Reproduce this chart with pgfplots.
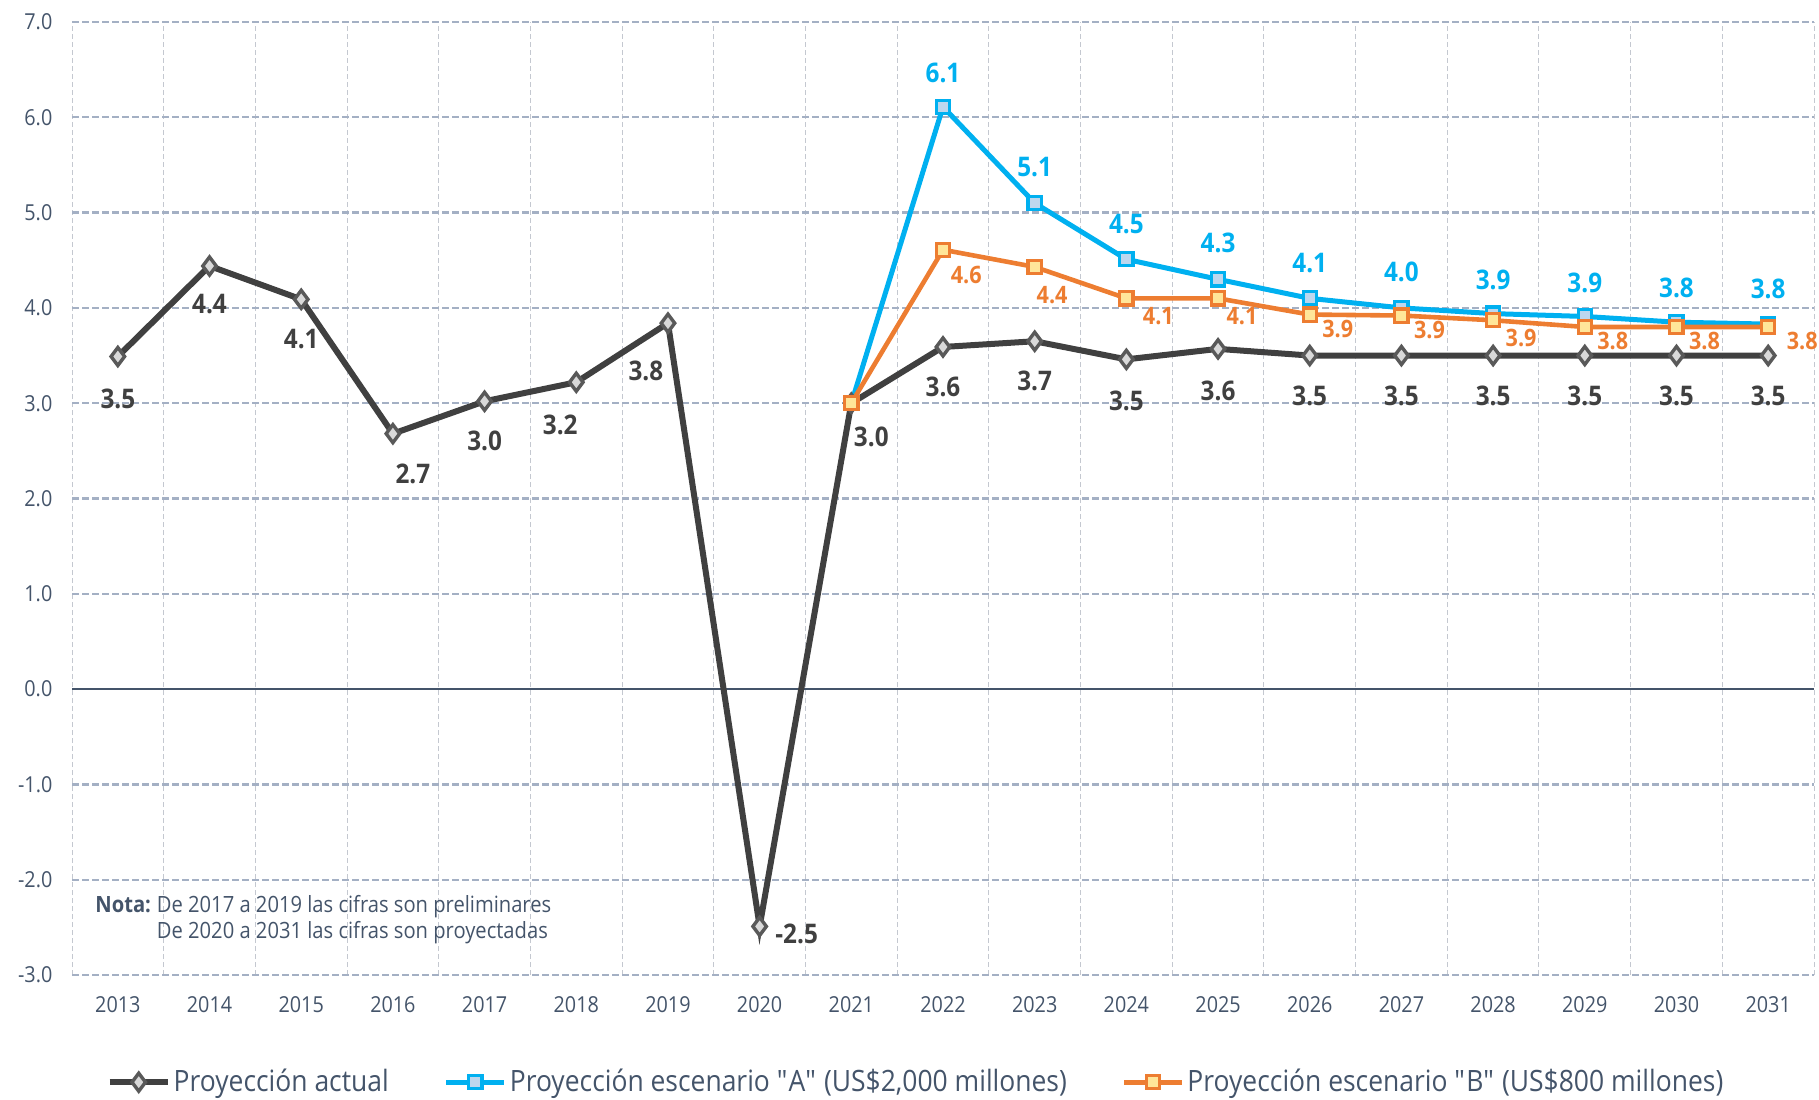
\documentclass[border=0pt]{standalone}
\usepackage{fontspec}
\setmainfont{Open Sans}[FakeStretch=0.9]
\usepackage{pgfplots}
\pgfplotsset{compat=1.18}
\usepackage{pgfplotstable}

\definecolor{actual}{HTML}{404040}
\definecolor{actmark}{HTML}{595959}
\definecolor{actfill}{HTML}{D9D9D9}
\definecolor{blueA}{HTML}{00B0F0}
\definecolor{blueFill}{HTML}{BDD7EE}
\definecolor{orangeB}{HTML}{ED7D31}
\definecolor{orangeFill}{HTML}{FFE699}
\definecolor{gridH}{HTML}{A4B0C4}
\definecolor{gridV}{HTML}{C4C8D0}
\definecolor{zeroC}{HTML}{44546A}
\definecolor{txt}{HTML}{44546A}

\pgfplotstableread{
x y lab dx dy
0 3.49 3.5 0 -21
1 4.44 4.4 0 -19
2 4.09 4.1 0 -20
3 2.68 2.7 10 -20
4 3.02 3.0 0 -20
5 3.22 3.2 -8 -21.5
6 3.84 3.8 -11 -24
7 -2.49 -2.5 18.5 -3.5
8 3.00 3.0 10 -17
9 3.59 3.6 0 -20
10 3.65 3.7 0 -20
11 3.46 3.5 0 -21
12 3.57 3.6 0 -21
13 3.50 3.5 0 -20
14 3.50 3.5 0 -20
15 3.50 3.5 0 -20
16 3.50 3.5 0 -20
17 3.50 3.5 0 -20
18 3.50 3.5 0 -20
}\actualdata

\pgfplotstableread{
x y lab dx dy
8 3.00 3.0 0 17.5
9 6.11 6.1 0 17
10 5.10 5.1 0 18
11 4.51 4.5 0 17.5
12 4.30 4.3 0 18
13 4.10 4.1 0 17.5
14 4.00 4.0 0 18
15 3.94 3.9 0 17
16 3.91 3.9 0 17
17 3.85 3.8 0 17
18 3.83 3.8 0 17.5
}\blueAdata

\pgfplotstableread{
x y lab dx dy
8 3.00 3.0 0 0
9 4.61 4.6 11.6 -12.8
10 4.43 4.4 8.7 -14
11 4.10 4.1 16 -9
12 4.10 4.1 12 -9
13 3.93 3.9 14 -7
14 3.92 3.9 14 -7
15 3.87 3.9 14 -9
16 3.80 3.8 14 -7
17 3.80 3.8 14 -7
18 3.80 3.8 17 -7
}\orangeBdata

\begin{document}
\begin{tikzpicture}
\begin{axis}[
  at={(0,0)}, anchor=south west,
  scale only axis, width=871pt, height=476.5pt,
  xmin=-0.5, xmax=18.5, ymin=-3, ymax=7,
  xtick={0,...,18},
  xticklabels={2013,2014,2015,2016,2017,2018,2019,2020,2021,2022,2023,2024,2025,2026,2027,2028,2029,2030,2031},
  minor xtick={-0.5,0.5,...,18.5},
  xminorgrids=true, xmajorgrids=false,
  minor x grid style={gridV, line width=0.5pt, dash pattern=on 2.5pt off 1.5pt},
  ytick={-3,...,7},
  yticklabels={-3.0,-2.0,-1.0,0.0,1.0,2.0,3.0,4.0,5.0,6.0,7.0},
  ymajorgrids=true,
  major y grid style={gridH, line width=1.1pt, dash pattern=on 3.5pt off 1.5pt},
  extra y ticks={0}, extra y tick labels={},
  extra y tick style={ymajorgrids=true, major y grid style={zeroC, line width=1pt, solid}},
  axis line style={draw=none},
  major tick length=0pt, minor tick length=0pt,
  tick label style={font=\fontsize{11}{13}\selectfont, text=txt},
  yticklabel style={xshift=-6.3pt},
  xticklabel style={yshift=-7.4pt},
  legend columns=3,
  legend style={at={(0.4848,0)}, anchor=center, yshift=-53.6pt, draw=none, fill=none,
    font=\fontsize{14.7}{17}\selectfont, text=txt,
    /tikz/every even column/.append style={column sep=26pt},
    /tikz/every odd column/.append style={column sep=0pt},
    nodes={inner sep=1.5pt}},
  legend image code/.code={\draw[mark repeat=2, mark phase=2] plot coordinates {(0pt,0pt) (14.5pt,0pt) (29pt,0pt)};},
]
\addplot[actual, line width=3pt, mark=diamond*, mark size=4.5pt,
  mark options={fill=actfill, draw=actmark, line width=1.7pt, solid}]
  table[x=x, y=y]{\actualdata};
\addlegendentry{Proyección actual}
\addplot[blueA, line width=2.5pt, mark=square*, mark size=3.3pt,
  mark options={fill=blueFill, draw=blueA, line width=1.6pt, solid}]
  table[x=x, y=y]{\blueAdata};
\addlegendentry{Proyección escenario \textquotedbl A\textquotedbl{} (US\$2,000 millones)}
\addplot[orangeB, line width=2.3pt, mark=square*, mark size=3.3pt,
  mark options={fill=orangeFill, draw=orangeB, line width=1.6pt, solid}]
  table[x=x, y=y]{\orangeBdata};
\addlegendentry{Proyección escenario \textquotedbl B\textquotedbl{} (US\$800 millones)}

% data labels
\addplot[draw=none, mark=none, forget plot, point meta=explicit symbolic,
  visualization depends on={\thisrow{dx}\as\myDX},
  visualization depends on={\thisrow{dy}\as\myDY},
  nodes near coords,
  nodes near coords style={anchor=center, xshift=\myDX pt, yshift=\myDY pt, inner sep=0pt,
    font=\fontsize{13.5}{15}\selectfont\bfseries, text=actual}]
  table[x=x, y=y, meta=lab]{\actualdata};
\addplot[draw=none, mark=none, forget plot, point meta=explicit symbolic,
  skip coords between index={0}{1},
  visualization depends on={\thisrow{dx}\as\myDX},
  visualization depends on={\thisrow{dy}\as\myDY},
  nodes near coords,
  nodes near coords style={anchor=center, xshift=\myDX pt, yshift=\myDY pt, inner sep=0pt,
    font=\fontsize{13.5}{15}\selectfont\bfseries, text=blueA}]
  table[x=x, y=y, meta=lab]{\blueAdata};
\addplot[draw=none, mark=none, forget plot, point meta=explicit symbolic,
  skip coords between index={0}{1},
  visualization depends on={\thisrow{dx}\as\myDX},
  visualization depends on={\thisrow{dy}\as\myDY},
  nodes near coords,
  nodes near coords style={anchor=center, xshift=\myDX pt, yshift=\myDY pt, inner sep=0pt,
    font=\fontsize{12}{14}\selectfont\bfseries, text=orangeB}]
  table[x=x, y=y, meta=lab]{\orangeBdata};
\end{axis}
\node[anchor=west, inner sep=0pt, text=txt, font=\fontsize{11.2}{13.2}\selectfont] at (11.5pt,27.5pt)
  {\begin{tabular}{@{}l@{\hspace{3pt}}l@{}}\textbf{Nota:} & De 2017 a 2019 las cifras son preliminares\\ & De 2020 a 2031 las cifras son proyectadas\end{tabular}};
\pgfresetboundingbox
\path[use as bounding box] (-36pt,-62pt) rectangle (873.5pt,487.5pt);
\end{tikzpicture}
\end{document}
